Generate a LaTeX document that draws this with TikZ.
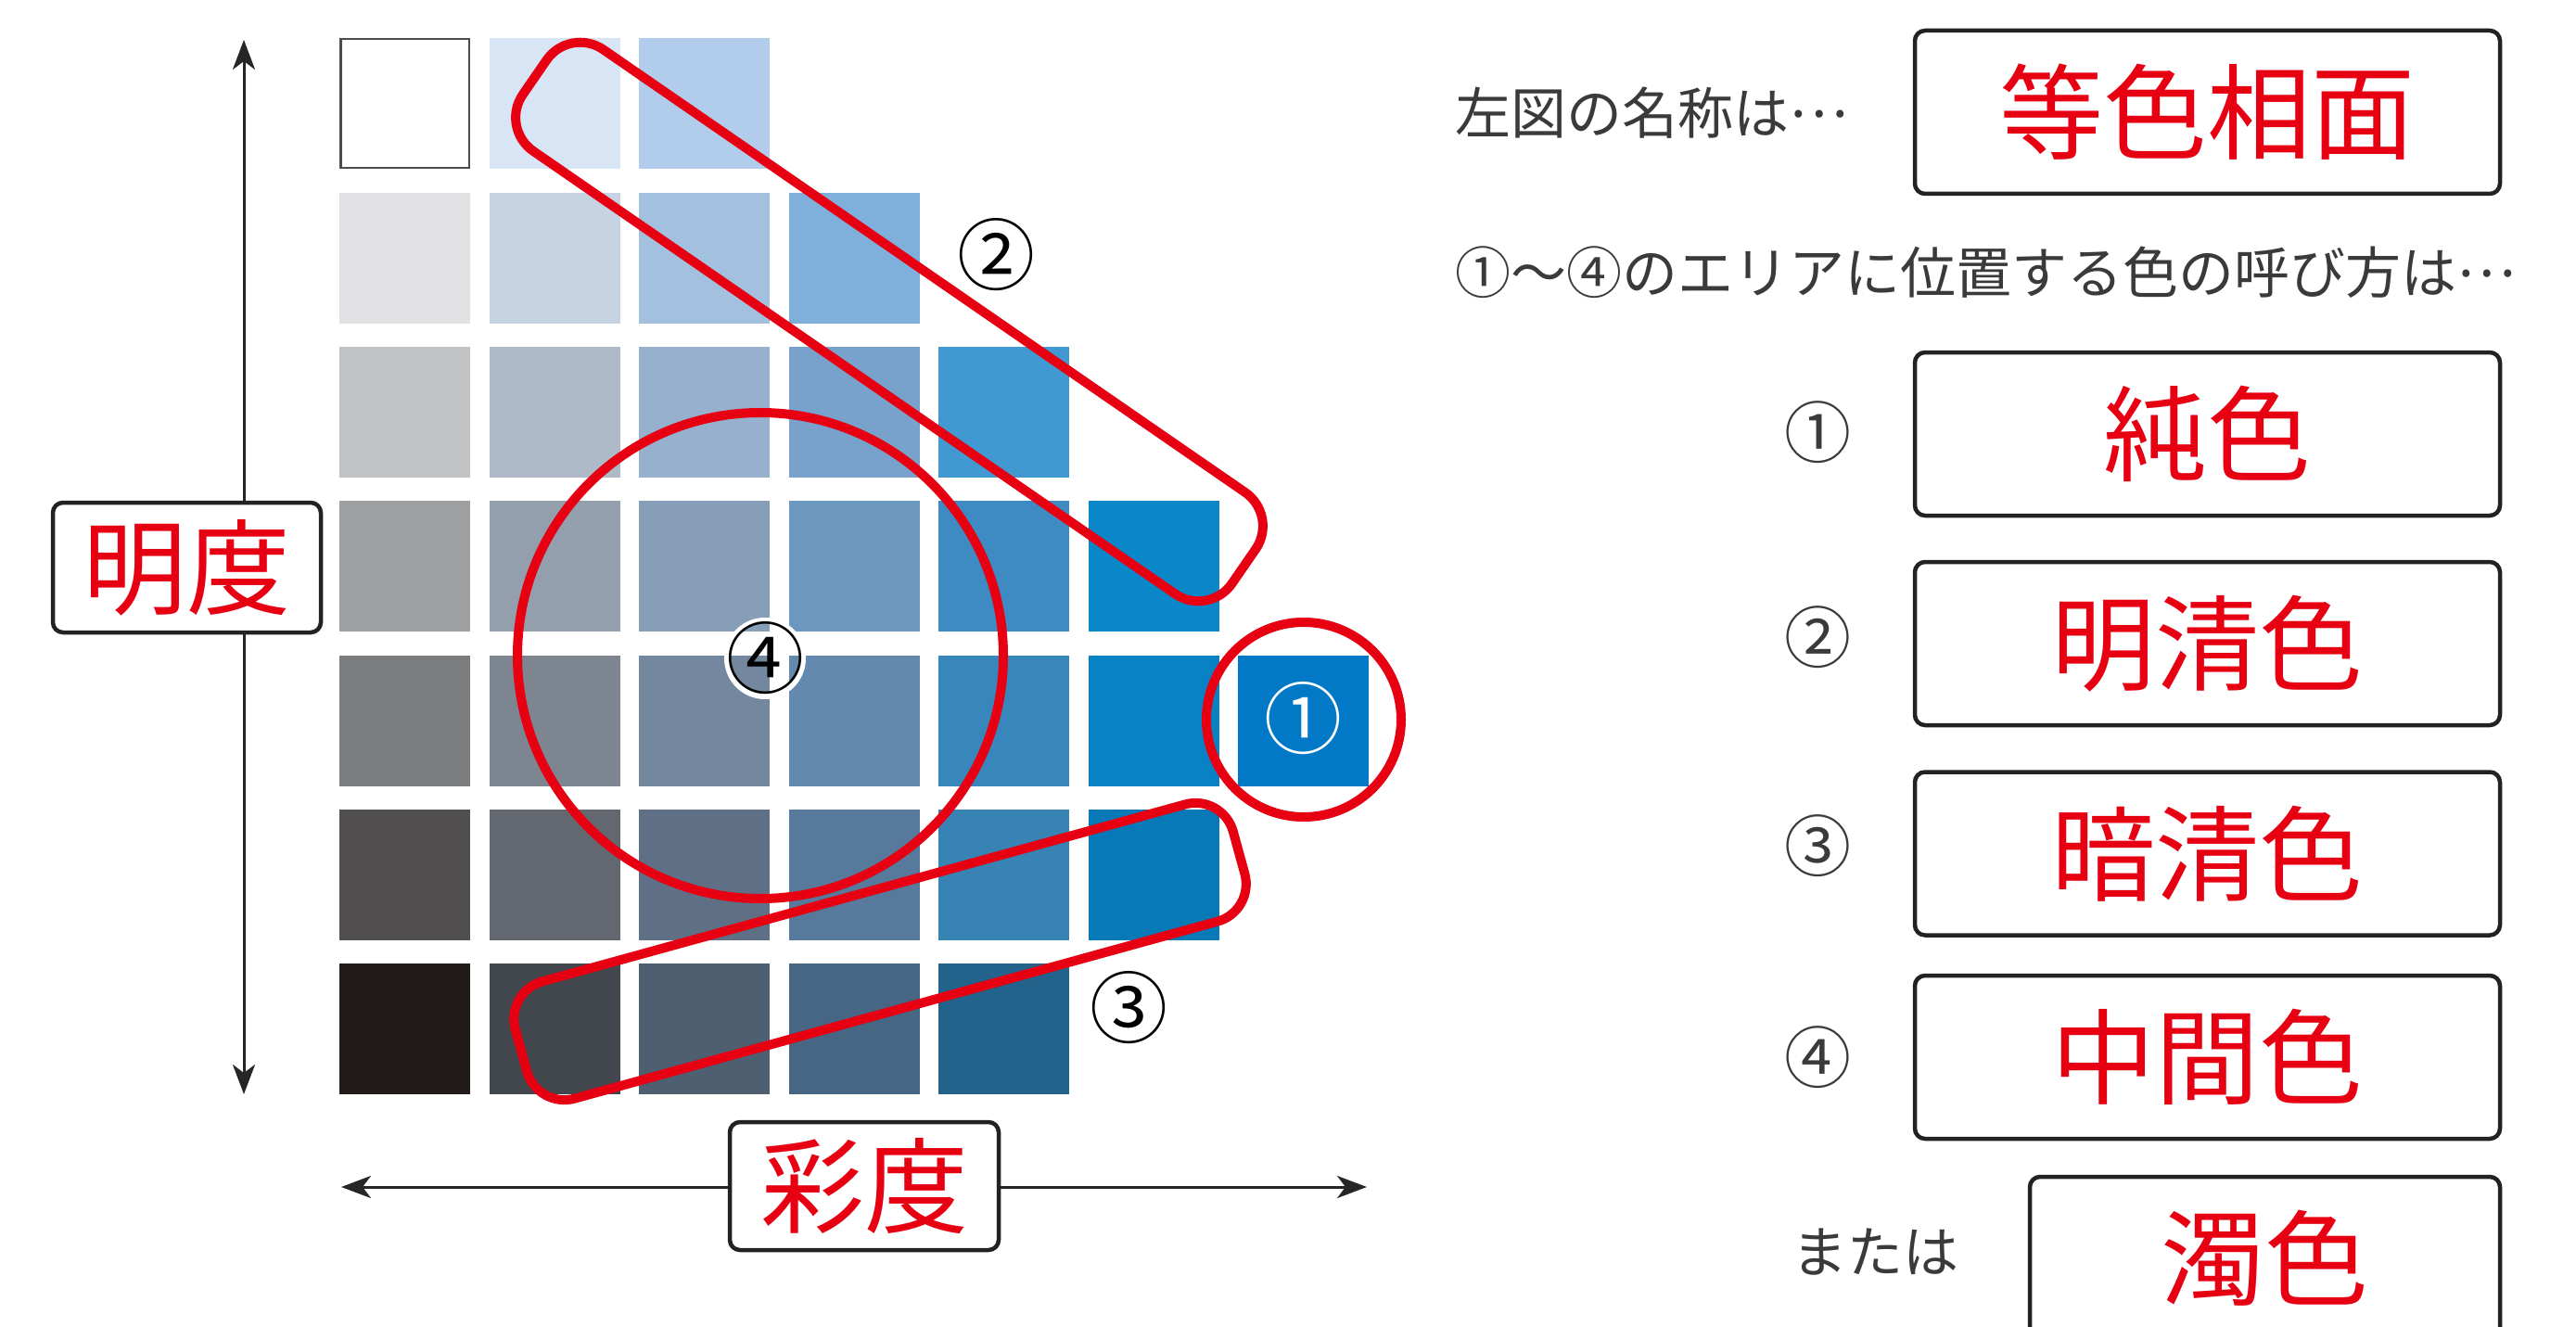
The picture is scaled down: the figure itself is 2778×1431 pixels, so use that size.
\documentclass[tikz,border=0pt]{standalone}
\usepackage{fontspec}
\newfontfamily\jp{Noto Sans CJK JP}
\usetikzlibrary{arrows.meta}
\definecolor{jred}{HTML}{E60012}
\definecolor{txtgray}{HTML}{3A3A3A}
\definecolor{boxline}{HTML}{222222}
\tikzset{
  cellbox/.style={minimum width=141pt, minimum height=141pt, inner sep=0pt, draw=none, anchor=north west},
  redmark/.style={draw=jred, line width=10pt, inner sep=0pt},
  namebox/.style={draw=boxline, line width=4.5pt, rounded corners=11pt, fill=white, inner sep=0pt, text=jred,
    font=\jp\fontsize{112}{112}\selectfont},
  axisline/.style={draw=black!85, line width=3pt, {Stealth[length=32pt,width=24pt,inset=9pt]}-{Stealth[length=32pt,width=24pt,inset=9pt]}},
  chartnum/.style={font=\jp\fontsize{84}{84}\selectfont, inner sep=0pt},
  plaintext/.style={font=\jp\fontsize{60}{60}\selectfont, text=txtgray, inner sep=0pt},
  keynum/.style={font=\jp\fontsize{72}{72}\selectfont, text=txtgray, inner sep=0pt},
}
\newcommand{\jdots}{\raisebox{0.3em}{…}}
\begin{document}
\begin{tikzpicture}[x=1pt,y=-1pt]
\useasboundingbox (0,0) rectangle (2778,1431);
\fill[white] (0,0) rectangle (2778,1431);
% colour grid
\foreach \r/\c/\col in {
 1/1/FFFFFF,1/2/D7E5F5,1/3/B2CDEB,
 2/1/E1E1E3,2/2/C5D3E3,2/3/A3C0DE,2/4/7FB0DC,
 3/1/C1C2C3,3/2/AEBAC8,3/3/96B0CD,3/4/78A2CB,3/5/4299D2,
 4/1/9E9FA1,4/2/939FAC,4/3/879EB8,4/4/6C97BE,4/5/3E8BC4,4/6/0A87C9,
 5/1/7B7C7E,5/2/7D8590,5/3/73889F,5/4/6389AF,5/5/3887BC,5/6/0882C4,5/7/0279C7,
 6/1/504E4E,6/2/626770,6/3/5F7086,6/4/56799C,6/5/3683B4,6/6/0879B7,
 7/1/231B1A,7/2/43474E,7/3/4F5F72,7/4/466684,7/5/23638B}{
  \pgfmathsetmacro\xx{366+161.5*(\c-1)}
  \pgfmathsetmacro\yy{41+166.33*(\r-1)}
  \edef\tmp{\noexpand\definecolor{cellc}{HTML}{\col}}\tmp
  \node[cellbox, fill=cellc] (cell-\r-\c) at (\xx,\yy) {};
}
\draw[draw=black!70, line width=2.5pt] ([xshift=1.25pt,yshift=-1.25pt]cell-1-1.north west) rectangle ([xshift=-1.25pt,yshift=1.25pt]cell-1-1.south east);

% axes
\coordinate (vtop) at (263,43);
\coordinate (vbot) at (263,1180);
\coordinate (hleft) at (368,1280);
\coordinate (hright) at (1474,1280);
\draw[axisline] (vtop) -- (vbot);
\draw[axisline] (hleft) -- (hright);
\node[namebox, minimum width=289pt, minimum height=140pt] (meido) at (201.5,612) {明度};
\node[namebox, minimum width=290pt, minimum height=138pt] (saido) at (932,1279) {彩度};

% red areas
\node[redmark, rounded corners=44pt, minimum width=929pt, minimum height=133pt, rotate=-34.6] (areaTwo) at (959,347) {};
\node[redmark, rounded corners=42pt, minimum width=803pt, minimum height=131pt, rotate=15.4] (areaThree) at (949,1026) {};
\node[redmark, circle, minimum size=524pt] (areaFour) at (820,707) {};
\node[redmark, circle, minimum size=210pt] (areaOne) at (1406,776) {};

% labels on chart
\node[chartnum, text=white] (numOne) at (1405,775) {①};
\node[chartnum] (numTwo) at (1074,275) {②};
\node[chartnum] (numThree) at (1217,1087) {③};
\node[circle, draw=white, line width=6pt, minimum size=82pt, inner sep=0pt] (haloFour) at (825,710) {};
\node[chartnum] (numFour) at (825,710) {④};

% right side
\node[plaintext, anchor=west] (q1) at (1569,122) {左図の名称は\jdots};
\node[namebox, minimum width=631pt, minimum height=176pt] (ansA) at (2380.5,121) {等色相面};
\node[plaintext, anchor=west] (q2) at (1569,294) {①～④のエリアに位置する色の呼び方は\jdots};

\node[keynum] (k1) at (1960,466) {①};
\node[namebox, minimum width=631pt, minimum height=176pt] (ans1) at (2380.5,468) {純色};
\node[keynum] (k2) at (1960,687) {②};
\node[namebox, minimum width=631pt, minimum height=176pt] (ans2) at (2380.5,694) {明清色};
\node[keynum] (k3) at (1960,912) {③};
\node[namebox, minimum width=631pt, minimum height=176pt] (ans3) at (2380.5,920.5) {暗清色};
\node[keynum] (k4) at (1960,1140) {④};
\node[namebox, minimum width=631pt, minimum height=176pt] (ans4) at (2380.5,1140) {中間色};
\node[plaintext, anchor=west] (mata) at (1932,1350) {または};
\node[namebox, minimum width=507pt, minimum height=176pt] (ans5) at (2442.5,1357) {濁色};
\end{tikzpicture}
\end{document}
